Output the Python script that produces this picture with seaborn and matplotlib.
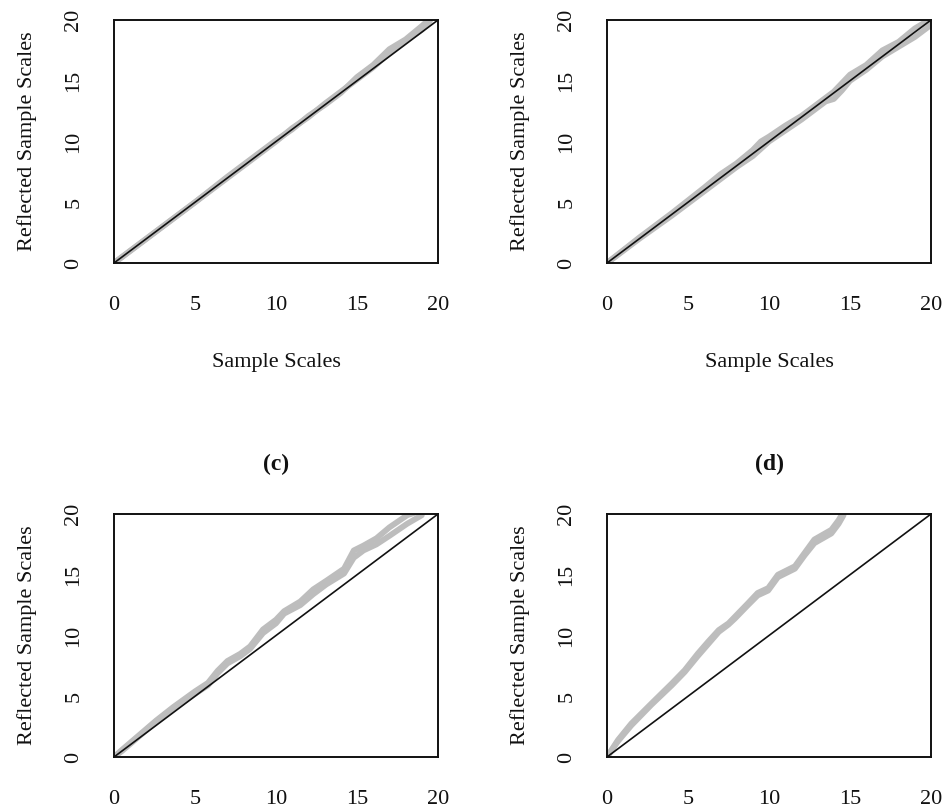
import matplotlib
matplotlib.use("Agg")
import matplotlib.pyplot as plt
import seaborn as sns

# ---- data ----
ticks = [0, 5, 10, 15, 20]
ref_x = [0, 20]
ref_y = [0, 20]

a_x = [0, 2, 4, 5, 7, 8, 10, 11, 12, 13, 14, 15, 16, 17, 18, 19, 19.5]
a_y1 = [0, 2.0, 4.0, 5.0, 7.1, 8.1, 10.1, 11.0, 12.1, 13.0, 14.0, 15.3, 16.3, 17.6, 18.4, 19.5, 20.1]
a_y2 = [0, 2.0, 4.0, 5.0, 7.0, 8.0, 10.0, 11.1, 12.0, 13.1, 14.1, 15.1, 16.1, 17.3, 18.3, 19.2, 19.9]

b_x = [0, 2, 4, 6, 7, 8, 9, 9.5, 10, 11, 12, 13, 13.5, 14, 14.5, 15, 16, 17, 18, 19, 20]
b_y1 = [0, 2.1, 4.1, 6.2, 7.3, 8.2, 9.3, 10.0, 10.4, 11.3, 12.1, 13.1, 13.6, 14.1, 14.8, 15.5, 16.3, 17.5, 18.2, 19.3, 20.1]
b_y2 = [0, 2.0, 3.9, 5.9, 6.9, 7.9, 8.8, 9.4, 10.0, 10.9, 11.8, 12.8, 13.3, 13.5, 14.2, 15.0, 15.9, 17.0, 17.8, 18.6, 19.6]

c_x = [0, 0.5, 1.2, 2.6, 3.65, 5.0, 5.8, 6.4, 7.0, 7.8, 8.4, 9.2, 10.0, 10.5, 11.5,
       12.3, 13.1, 14.2, 14.8, 15.4, 16.2, 17.0, 18.1, 19.0]
c_y1 = [0, 0.6, 1.4, 3.0, 4.1, 5.4, 6.1, 7.1, 7.9, 8.5, 9.1, 10.5, 11.3, 12.0, 12.8,
        13.8, 14.5, 15.5, 17.0, 17.4, 18.0, 18.9, 19.9, 20.3]
c_y2 = [0, 0.5, 1.3, 2.9, 4.0, 5.2, 5.9, 6.9, 7.7, 8.3, 8.9, 10.2, 11.0, 11.8, 12.5,
        13.4, 14.2, 15.1, 16.4, 17.0, 17.5, 18.2, 19.2, 19.9]

d_x = [0, 0.68, 1.5, 2.74, 4.0, 4.8, 5.6, 6.25, 6.9, 7.5, 7.9, 8.7, 9.3, 9.95, 10.55,
       11.6, 12.2, 12.8, 13.85, 14.3, 14.6]
d_y1 = [0, 1.4, 2.75, 4.4, 6.05, 7.15, 8.5, 9.5, 10.45, 11.0, 11.55, 12.65, 13.5, 13.9,
        15.0, 15.7, 16.8, 17.9, 18.7, 19.5, 20.2]
d_y2 = [0, 1.3, 2.6, 4.3, 5.9, 7.0, 8.3, 9.3, 10.3, 10.9, 11.4, 12.5, 13.3, 13.7,
        14.8, 15.5, 16.6, 17.6, 18.4, 19.2, 19.9]

panels = [
    dict(x=a_x, ys=[a_y1, a_y2], title=None, xlabel="Sample Scales"),
    dict(x=b_x, ys=[b_y1, b_y2], title=None, xlabel="Sample Scales"),
    dict(x=c_x, ys=[c_y1, c_y2], title="(c)", xlabel=None),
    dict(x=d_x, ys=[d_y1, d_y2], title="(d)", xlabel=None),
]

sns.set_theme(style="white")
plt.rcParams["font.family"] = ["Liberation Serif", "DejaVu Serif"]

W, H = 944, 808
fig = plt.figure(figsize=(W / 100, H / 100), dpi=100)

# axes boxes in pixels: (left, top, right, bottom)
boxes = [(114, 20, 438, 263), (607, 20, 931, 263),
         (114, 514, 438, 757), (607, 514, 931, 757)]

ink = "#111111"
for p, (l, t, r, b) in zip(panels, boxes):
    ax = fig.add_axes([l / W, (H - b) / H, (r - l) / W, (b - t) / H])
    for yy in p["ys"]:
        sns.lineplot(x=p["x"], y=yy, sort=False, estimator=None, ax=ax,
                     color="#bdbdbd", lw=4.2, solid_capstyle="round")
    sns.lineplot(x=ref_x, y=ref_y, sort=False, estimator=None, ax=ax,
                 color=ink, lw=1.2)
    ax.set_xlim(0, 20)
    ax.set_ylim(0, 20)
    ax.set_xticks(ticks)
    ax.set_yticks(ticks)
    ax.tick_params(axis="both", direction="out", length=10, width=1.4,
                   color=ink, labelsize=16, labelcolor=ink)
    ax.tick_params(axis="x", pad=14)
    ax.tick_params(axis="y", pad=12, labelrotation=90)
    for lab in ax.get_yticklabels():
        lab.set_va("center")
    for s in ax.spines.values():
        s.set_visible(True)
        s.set_linewidth(1.4)
        s.set_color(ink)
    ax.set_ylabel("Reflected Sample Scales", fontsize=16, labelpad=20, color=ink)
    if p["xlabel"]:
        ax.set_xlabel(p["xlabel"], fontsize=16, labelpad=27, color=ink)
    if p["title"]:
        ax.set_title(p["title"], fontsize=17, fontweight="bold", pad=32, color=ink)
    ax.grid(False)

fig.savefig("out.png", dpi=100)
